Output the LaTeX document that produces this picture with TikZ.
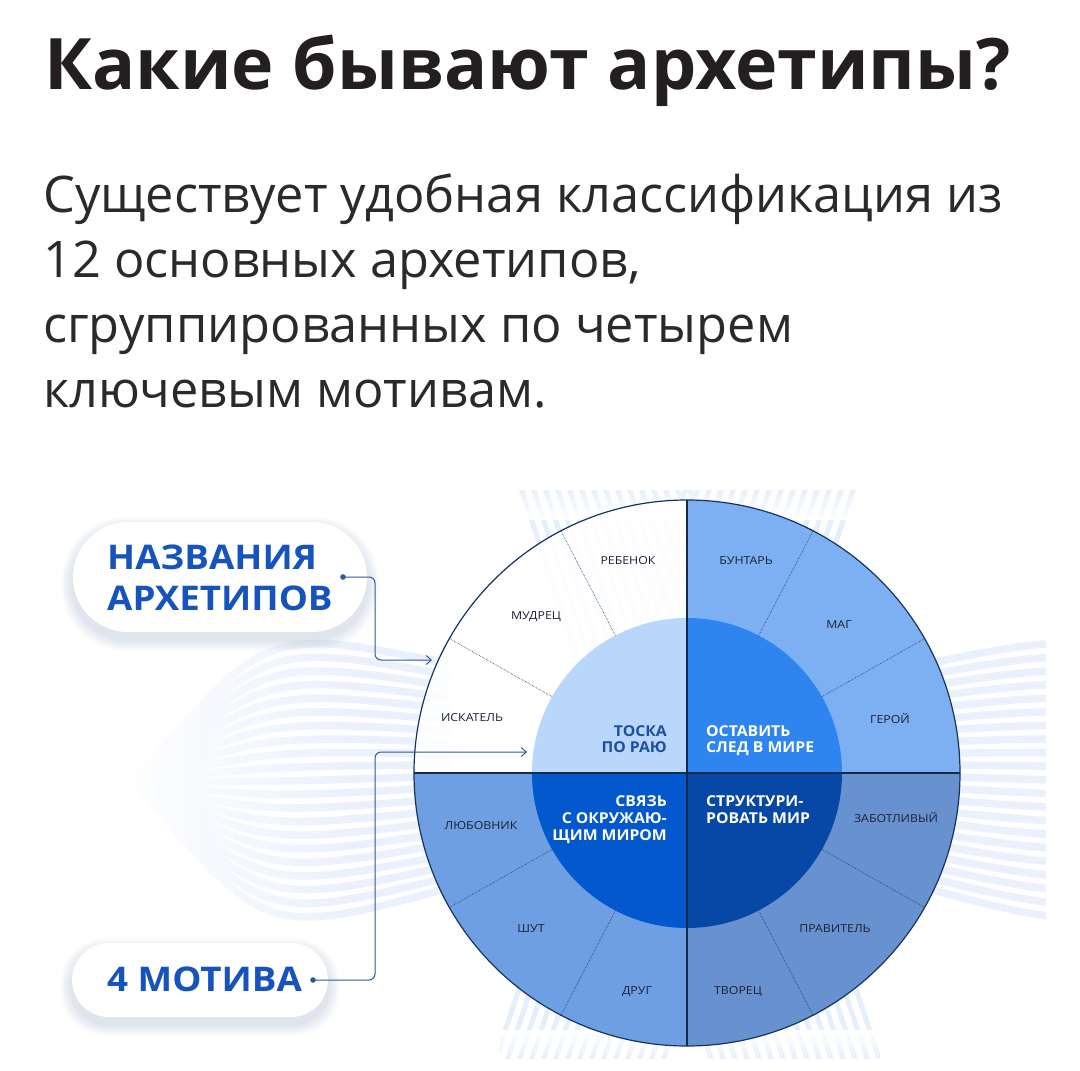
\documentclass[tikz,border=0pt]{standalone}
\usepackage{fontspec}
\setmainfont{Open Sans}
\usetikzlibrary{arrows.meta,fadings}
\definecolor{titlecol}{HTML}{231F20}
\definecolor{bodycol}{HTML}{2A2A2A}
\definecolor{lblue}{HTML}{1753BD}
\definecolor{conncol}{HTML}{2C5A96}
\definecolor{rimcol}{HTML}{17345F}
\definecolor{trout}{HTML}{7DB0F2}
\definecolor{blout}{HTML}{6E9FE3}
\definecolor{brout}{HTML}{6891CF}
\definecolor{tlin}{HTML}{B9D6FB}
\definecolor{trin}{HTML}{2F85EF}
\definecolor{blin}{HTML}{0358CD}
\definecolor{brin}{HTML}{0747A6}
\definecolor{bgline}{HTML}{EAF1FC}
\definecolor{bgstripe}{HTML}{E6EEFB}
\definecolor{shadowcol}{HTML}{8FA6C8}
\definecolor{smalltext}{HTML}{1C2233}
\definecolor{tosk}{HTML}{1A4FA6}
\newcommand{\wideA}[1]{\scalebox{1.08}[1]{#1}}
\newcommand{\wideB}[1]{\scalebox{1.12}[1]{#1}}
\newcommand{\wideC}[1]{\scalebox{1.05}[1]{#1}}
\tikzset{
  bodytext/.style={anchor=base west, inner sep=0pt, text=bodycol, font=\fontsize{50.5}{60}\selectfont},
  bigblue/.style={anchor=base west, inner sep=0pt, text=lblue, font=\fontsize{34}{40}\selectfont\bfseries},
  small/.style={anchor=base, inner sep=0pt, text=smalltext, font=\fontsize{11}{12}\selectfont},
  motR/.style={anchor=base east, inner sep=0pt, font=\fontsize{15}{17}\selectfont\bfseries},
  motL/.style={anchor=base west, inner sep=0pt, font=\fontsize{15}{17}\selectfont\bfseries},
  conn/.style={draw=conncol, line width=1pt, rounded corners=6pt},
  divider/.style={draw=rimcol, line width=0.6pt, densely dotted},
  axisline/.style={draw=rimcol!80!black, line width=1.1pt},
  stripe/.style={draw=bgstripe, line width=5pt},
  wave/.style={draw=bgline, line width=7.5pt},
  pill/.style={fill=white, draw=none}
}
\begin{document}
\begin{tikzpicture}[x=1pt,y=-1pt]
\useasboundingbox (0,0) rectangle (1080,1071);
\fill[white] (0,0) rectangle (1080,1071);

% ---------- background decoration ----------
% X shaped bands behind the wheel
\begin{scope}
  \clip (500,490) rectangle (880,1058);
  \foreach \k in {0,...,14} {
    \draw[stripe] ({515+\k*12},470) -- ({715+\k*12},1070);
    \draw[stripe] ({860-\k*12},470) -- ({660-\k*12},1070);
  }
  \fill[white, path fading=north] (480,486) rectangle (900,520);
  \fill[white, path fading=south] (480,1030) rectangle (900,1062);
\end{scope}
% left lens of waves
\begin{scope}
  \clip (120,620) rectangle (460,950);
  \foreach \k in {0,...,20} {
    \pgfmathsetmacro\t{(\k-10)/10}
    \draw[wave] (135,782) .. controls (265,{782+\t*155}) .. (450,{776+\t*112});
  }
  \fill[white, path fading=east] (118,620) rectangle (360,950);
\end{scope}
% right waves (cut at the right)
\begin{scope}
  \clip (900,620) rectangle (1046,930);
  \foreach \k in {0,...,20} {
    \pgfmathsetmacro\t{(\k-10)/10}
    \draw[wave] (925,{776+\t*112}) .. controls (1110,{782+\t*155}) .. (1240,782);
  }
\end{scope}

% ---------- title and text ----------
\node[anchor=base west, inner sep=0pt, text=titlecol, font=\fontsize{71}{84}\selectfont\bfseries] (title) at (44,89) {\scalebox{1.01}[1]{Какие бывают архетипы?}};
\node[bodytext] (p1) at (43,212) {Существует удобная классификация из};
\node[bodytext] (p2) at (43,277) {12 основных архетипов,};
\node[bodytext] (p3) at (43,342) {сгруппированных по четырем};
\node[bodytext] (p4) at (43,407) {ключевым мотивам.};

% ---------- wheel ----------
\coordinate (C) at (687,773);
\begin{scope}
  \clip (C) circle[radius=273];
  \fill[white, opacity=0.9] (400,480) rectangle (687,773);
  \fill[trout] (687,480) rectangle (980,773);
  \fill[blout] (400,773) rectangle (687,1060);
  \fill[brout] (687,773) rectangle (980,1060);
\end{scope}
\begin{scope}
  \clip (C) circle[radius=155];
  \fill[tlin] (520,600) rectangle (687,773);
  \fill[trin] (687,600) rectangle (850,773);
  \fill[blin] (520,773) rectangle (687,940);
  \fill[brin] (687,773) rectangle (850,940);
\end{scope}
\foreach \a in {29.5,62.5,117.5,150.5,209.5,242.5,297.5,330.5}
  \draw[divider, shift={(C)}] (\a:155) -- (\a:273);
\draw[axisline] (687,500) -- (687,1046);
\draw[axisline] (414,773) -- (960,773);
\draw[draw=rimcol, line width=1.2pt] (C) circle[radius=273];

% archetype names
\node[small] (s1) at (628,564) {\wideB{РЕБЕНОК}};
\node[small] (s2) at (746,564) {\wideB{БУНТАРЬ}};
\node[small] (s3) at (536,619) {\wideB{МУДРЕЦ}};
\node[small] (s4) at (839,628) {\wideB{МАГ}};
\node[small] (s5) at (472,721) {\wideB{ИСКАТЕЛЬ}};
\node[small] (s6) at (890,723) {\wideB{ГЕРОЙ}};
\node[small] (s7) at (481,829) {\wideB{ЛЮБОВНИК}};
\node[small] (s8) at (896,822) {\wideB{ЗАБОТЛИВЫЙ}};
\node[small] (s9) at (531,932) {\wideB{ШУТ}};
\node[small] (s10) at (835,932) {\wideB{ПРАВИТЕЛЬ}};
\node[small] (s11) at (637,994) {\wideB{ДРУГ}};
\node[small] (s12) at (738,994) {\wideB{ТВОРЕЦ}};

% motives
\node[motR, text=tosk] (m1a) at (667,736) {\wideC{ТОСКА}};
\node[motR, text=tosk] (m1b) at (667,752.5) {\wideC{ПО РАЮ}};
\node[motL, text=white] (m2a) at (706,736) {\wideC{ОСТАВИТЬ}};
\node[motL, text=white] (m2b) at (706,752.5) {\wideC{СЛЕД В МИРЕ}};
\node[motR, text=white] (m3a) at (667,806.5) {\wideC{СВЯЗЬ}};
\node[motR, text=white] (m3b) at (667,823.5) {\wideC{С ОКРУЖАЮ-}};
\node[motR, text=white] (m3c) at (667,840.5) {\wideC{ЩИМ МИРОМ}};
\node[motL, text=white] (m4a) at (706,806.5) {\wideC{СТРУКТУРИ-}};
\node[motL, text=white] (m4b) at (706,823.5) {\wideC{РОВАТЬ МИР}};

% ---------- callout pills ----------
\foreach \s in {1,...,9}
  \fill[shadowcol, opacity=0.03, rounded corners={55pt+\s*1pt}] ({73-\s*1.3},{522-\s*1.3+7}) rectangle ({367+\s*1.3},{632+\s*1.3+7});
\node[pill, rounded corners=55pt, minimum width=294pt, minimum height=110pt, inner sep=0pt] (pillA) at (220,577) {};
\foreach \s in {1,...,9}
  \fill[shadowcol, opacity=0.03, rounded corners={37pt+\s*1pt}] ({72-\s*1.3},{943-\s*1.3+7}) rectangle ({328+\s*1.3},{1017+\s*1.3+7});
\node[pill, rounded corners=37pt, minimum width=256pt, minimum height=74pt, inner sep=0pt] (pillB) at (200,980) {};

\node[bigblue] (la) at (107,569) {\wideA{НАЗВАНИЯ}};
\node[bigblue] (lb) at (107,610) {\wideA{АРХЕТИПОВ}};
\node[bigblue] (lc) at (107,991) {\wideA{4 МОТИВА}};

% connectors
\coordinate (d1) at (343,577);
\coordinate (j1) at (375,660);
\coordinate (a1) at (432,660);
\coordinate (d2) at (313,980);
\coordinate (j2) at (375,752);
\coordinate (a2) at (527,752);
\fill[conncol] (d1) circle[radius=2.8];
\fill[conncol] (d2) circle[radius=2.8];
\draw[conn, -{Straight Barb[length=5pt,width=9pt]}] (d1) -| (j1) -- (a1);
\draw[conn, -{Straight Barb[length=5pt,width=9pt]}] (d2) -| (j2) -- (a2);
\end{tikzpicture}
\end{document}
